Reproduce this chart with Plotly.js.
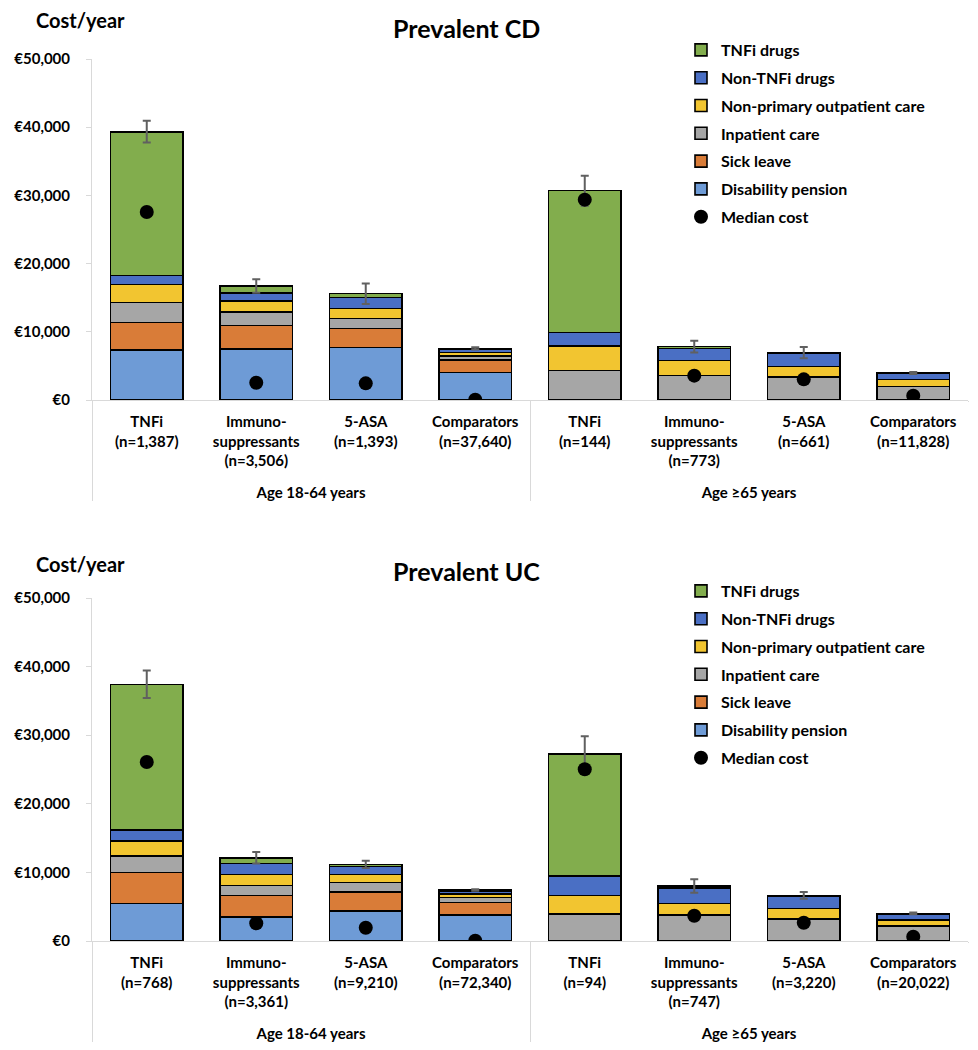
<!DOCTYPE html>
<html>
<head>
<meta charset="utf-8">
<script src="https://cdn.plot.ly/plotly-3.0.1.min.js"></script>
<style>html,body{margin:0;padding:0;background:#fff;}#chart{width:978px;height:1050px;}</style>
</head>
<body>
<div id="chart"></div>
<script>
// ---- Data ----
const groups = [" <br>Age 18-64 years"," <br>Age 18-64 years"," <br>Age 18-64 years"," <br>Age 18-64 years",
                " <br>Age \u226565 years"," <br>Age \u226565 years"," <br>Age \u226565 years"," <br>Age \u226565 years"];
const categoriesCD = ["TNFi<br>(n=1,387)","Immuno-<br>suppressants<br>(n=3,506)","5-ASA<br>(n=1,393)","Comparators<br>(n=37,640)",
                      "TNFi<br>(n=144)","Immuno-<br>suppressants<br>(n=773)","5-ASA<br>(n=661)","Comparators<br>(n=11,828)"];
const categoriesUC = ["TNFi<br>(n=768)","Immuno-<br>suppressants<br>(n=3,361)","5-ASA<br>(n=9,210)","Comparators<br>(n=72,340)",
                      "TNFi<br>(n=94)","Immuno-<br>suppressants<br>(n=747)","5-ASA<br>(n=3,220)","Comparators<br>(n=20,022)"];
const seriesNames = ["Disability pension","Sick leave","Inpatient care","Non-primary outpatient care","Non-TNFi drugs","TNFi drugs"];
const seriesColors = ["#6E9BD6","#D97C38","#A6A6A6","#F2C530","#4A6FC4","#82AD4D"];

// Prevalent CD
const cdDisability = [7330, 7480, 7680, 4010, 0, 0, 0, 0];
const cdSickLeave  = [4060, 3470, 2830, 1860, 0, 0, 0, 0];
const cdInpatient  = [2880, 1950, 1420, 580, 4300, 3620, 3330, 2000];
const cdOutpatient = [2640, 1660, 1510, 490, 3620, 2150, 1610, 980];
const cdNonTNFi    = [1370, 1130, 1610, 540, 1950, 1760, 1950, 930];
const cdTNFi       = [21060, 1020, 540, 90, 20820, 290, 60, 40];
const cdError      = [1600, 1000, 1500, 150, 2200, 850, 830, 150];
const cdMedian     = [27570, 2540, 2440, 50, 29380, 3570, 3030, 640];

// Prevalent UC
const ucDisability = [5490, 3500, 4370, 3790, 0, 0, 0, 0];
const ucSickLeave  = [4520, 3110, 2730, 1850, 0, 0, 0, 0];
const ucInpatient  = [2380, 1510, 1400, 680, 3940, 3790, 3210, 2190];
const ucOutpatient = [2230, 1600, 1220, 490, 2670, 1700, 1550, 870];
const ucNonTNFi    = [1560, 1550, 1160, 520, 2870, 2240, 1700, 920];
const ucTNFi       = [21240, 870, 300, 100, 17780, 290, 200, 40];
const ucError      = [2000, 850, 530, 120, 2600, 980, 490, 120];
const ucMedian     = [26090, 2580, 1940, 50, 25030, 3690, 2670, 630];

// ---- Build ----
const W = 978, H = 1050;
const px = v => v / W;
const py = v => 1 - v / H;
const FONT = "Lato, 'Liberation Sans', sans-serif";

function buildTraces(cats, segs, err, median, xa, ya, legendName) {
  const traces = [];
  const x = [groups, cats];
  segs.forEach((vals, i) => {
    traces.push({
      type: 'bar', name: seriesNames[i], x: x, y: vals, xaxis: xa, yaxis: ya,
      marker: {color: seriesColors[i], line: {color: '#000', width: 1.6}},
      legend: legendName, legendgroup: legendName + i, legendrank: 100 - i * 10,
      hoverinfo: 'y+name'
    });
  });
  const totals = cats.map((_, j) => segs.reduce((s, a) => s + a[j], 0));
  traces.push({
    type: 'scatter', mode: 'markers', x: x, y: totals, xaxis: xa, yaxis: ya,
    marker: {size: 2, color: 'rgba(0,0,0,0)'}, showlegend: false, hoverinfo: 'skip',
    error_y: {type: 'data', array: err, visible: true, color: '#606060', thickness: 2, width: 4}
  });
  traces.push({
    type: 'scatter', mode: 'markers', name: 'Median cost', x: x, y: median, xaxis: xa, yaxis: ya,
    marker: {size: 14, color: '#000'}, legend: legendName, legendgroup: legendName + 'm', legendrank: 200
  });
  return traces;
}

const data = [].concat(
  buildTraces(categoriesCD, [cdDisability, cdSickLeave, cdInpatient, cdOutpatient, cdNonTNFi, cdTNFi], cdError, cdMedian, 'x', 'y', 'legend'),
  buildTraces(categoriesUC, [ucDisability, ucSickLeave, ucInpatient, ucOutpatient, ucNonTNFi, ucTNFi], ucError, ucMedian, 'x2', 'y2', 'legend2')
);

function xAxis(anchor) {
  return {
    type: 'multicategory', domain: [px(92), px(968)], anchor: anchor,
    showline: true, linecolor: '#D9D9D9', linewidth: 1, ticks: '',
    showdividers: true, dividercolor: '#D9D9D9', dividerwidth: 1,
    ticklabelstandoff: 8,
    tickfont: {family: FONT, size: 15, color: '#000', weight: 700},
    showgrid: false, zeroline: false, automargin: false
  };
}
function yAxis(anchor, top, bottom) {
  return {
    domain: [py(bottom), py(top)], anchor: anchor, range: [0, 50000], dtick: 10000,
    showline: true, linecolor: '#D9D9D9', linewidth: 1, ticks: 'outside', ticklen: 5, tickcolor: '#D9D9D9',
    tickprefix: '\u20ac', tickformat: ',d', ticklabelstandoff: 13,
    tickfont: {family: FONT, size: 15, color: '#000', weight: 700},
    showgrid: false, zeroline: false, automargin: false
  };
}
function legendCfg(top) {
  return {
    x: px(681), y: py(top), xanchor: 'left', yanchor: 'top',
    traceorder: 'grouped', tracegroupgap: 4, bgcolor: 'rgba(0,0,0,0)',
    font: {family: FONT, size: 16, color: '#000', weight: 700}
  };
}
// cover the outer right-end category divider (the reference has none there)
function coverRightDivider(top, bottom) {
  return {type: 'rect', xref: 'paper', yref: 'paper', layer: 'above',
          x0: px(965), x1: 1, y0: py(bottom), y1: py(top),
          fillcolor: '#fff', line: {width: 0}};
}

const layout = {
  width: W, height: H,
  margin: {l: 0, r: 0, t: 0, b: 0},
  paper_bgcolor: '#fff', plot_bgcolor: '#fff',
  barmode: 'stack', bargap: 0.34,
  font: {family: FONT, color: '#000'},
  showlegend: true,
  xaxis: xAxis('y'), yaxis: yAxis('x', 59, 400),
  xaxis2: xAxis('y2'), yaxis2: yAxis('x2', 598, 941),
  legend: legendCfg(33), legend2: legendCfg(574),
  shapes: [coverRightDivider(402, 515), coverRightDivider(943, 1050)],
  annotations: [
    {text: 'Cost/year', xref: 'paper', yref: 'paper', x: px(80), y: py(20), showarrow: false,
     xanchor: 'center', yanchor: 'middle', font: {family: FONT, size: 20, weight: 700, color: '#000'}},
    {text: 'Prevalent CD', xref: 'paper', yref: 'paper', x: px(466), y: py(28), showarrow: false,
     xanchor: 'center', yanchor: 'middle', font: {family: FONT, size: 25, weight: 700, color: '#000'}},
    {text: 'Cost/year', xref: 'paper', yref: 'paper', x: px(80), y: py(564), showarrow: false,
     xanchor: 'center', yanchor: 'middle', font: {family: FONT, size: 20, weight: 700, color: '#000'}},
    {text: 'Prevalent UC', xref: 'paper', yref: 'paper', x: px(466), y: py(571), showarrow: false,
     xanchor: 'center', yanchor: 'middle', font: {family: FONT, size: 25, weight: 700, color: '#000'}}
  ]
};

Plotly.newPlot('chart', data, layout, {displayModeBar: false, staticPlot: true});
</script>
</body>
</html>
